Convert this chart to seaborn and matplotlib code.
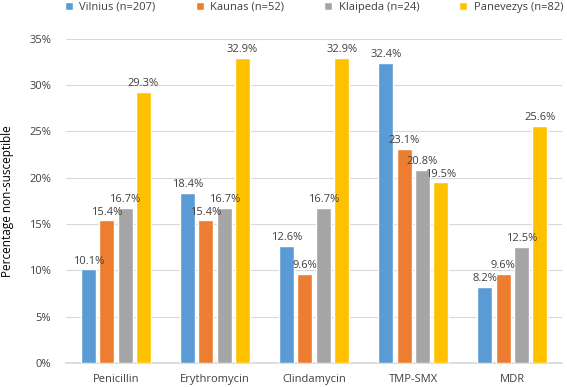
#!/usr/bin/env python3
import matplotlib
matplotlib.use("Agg")
import matplotlib.pyplot as plt
import pandas as pd
import seaborn as sns
from matplotlib.ticker import FuncFormatter

ANTIBIOTICS = ["Penicillin", "Erythromycin", "Clindamycin", "TMP-SMX", "MDR"]
CITIES = ["Vilnius (n=207)", "Kaunas (n=52)", "Klaipeda (n=24)", "Panevezys (n=82)"]
VILNIUS = [10.1, 18.4, 12.6, 32.4, 8.2]
KAUNAS = [15.4, 15.4, 9.6, 23.1, 9.6]
KLAIPEDA = [16.7, 16.7, 16.7, 20.8, 12.5]
PANEVEZYS = [29.3, 32.9, 32.9, 19.5, 25.6]
COLORS = ["#5B9BD5", "#ED7D31", "#A5A5A5", "#FFC000"]


def build_frame() -> pd.DataFrame:
    rows = []
    for city, values in zip(CITIES, [VILNIUS, KAUNAS, KLAIPEDA, PANEVEZYS]):
        for drug, v in zip(ANTIBIOTICS, values):
            rows.append({"drug": drug, "city": city, "value": v})
    return pd.DataFrame(rows)


def main() -> None:
    sns.set_theme(style="white")
    plt.rcParams["font.family"] = ["Open Sans", "DejaVu Sans"]
    df = build_frame()

    fig, ax = plt.subplots(figsize=(5.67, 3.87), dpi=100)
    fig.subplots_adjust(left=0.117, right=0.991, top=0.90, bottom=0.062)

    sns.barplot(data=df, x="drug", y="value", hue="city", order=ANTIBIOTICS,
                hue_order=CITIES, palette=COLORS, width=0.74, gap=0.18,
                saturation=1, ax=ax, zorder=3)

    for container in ax.containers:
        ax.bar_label(container, labels=[f"{b.get_height():.1f}%" for b in container],
                     padding=2, fontsize=8, color="#404040")

    ax.set_ylim(0, 35)
    ax.set_yticks(range(0, 36, 5))
    ax.yaxis.set_major_formatter(FuncFormatter(lambda v, _: f"{v:.0f}%"))
    ax.grid(True, axis="y", color="#D9D9D9", linewidth=0.8, zorder=0)
    ax.set_axisbelow(True)
    for side in ["top", "right", "left"]:
        ax.spines[side].set_visible(False)
    ax.spines["bottom"].set_color("#D9D9D9")
    ax.tick_params(axis="both", length=0, labelsize=8, colors="#404040")
    ax.tick_params(axis="y", pad=11)
    ax.tick_params(axis="x", pad=8)
    ax.set_xlabel("")
    ax.set_ylabel("Percentage non-susceptible", fontsize=8.5, color="#000000")
    ax.yaxis.set_label_coords(-0.106, 0.5)

    handles, labels = ax.get_legend_handles_labels()
    ax.legend(handles, labels, loc="upper center", bbox_to_anchor=(0.5, 1.145), ncol=4,
              frameon=False, fontsize=8, handlelength=0.7, handleheight=0.7,
              columnspacing=3.6, handletextpad=0.6, labelcolor="#404040")

    fig.savefig("out.png", dpi=100)
    plt.close(fig)


if __name__ == "__main__":
    main()
